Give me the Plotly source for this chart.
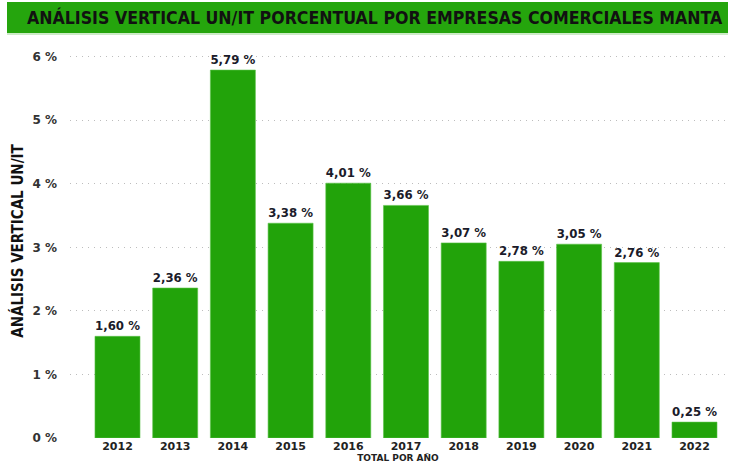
import plotly.graph_objects as go

years = ["2012", "2013", "2014", "2015", "2016", "2017", "2018", "2019", "2020", "2021", "2022"]
values = [1.60, 2.36, 5.79, 3.38, 4.01, 3.66, 3.07, 2.78, 3.05, 2.76, 0.25]
y_ticks = [0, 1, 2, 3, 4, 5, 6]

labels = [f"{v:.2f} %".replace(".", ",") for v in values]
tick_text = [f"{t} %" for t in y_ticks]

GREEN = "#22A30A"
W, H = 734, 475
L, R, T, B = 70, 8, 44, 37
pw = W - L - R
ph = H - T - B

def px_x(p):
    return (p - L) / pw

def px_y(p):
    return (H - B - p) / ph

fig = go.Figure(go.Bar(
    x=years, y=values,
    marker=dict(color=GREEN, line=dict(color="#5cc24a", width=0.6)),
    text=labels, textposition="outside", cliponaxis=False,
    textfont=dict(family="DejaVu Sans", size=12, color="#1b1b2a", weight="bold"),
    width=0.78,
))

fig.update_layout(
    width=W, height=H,
    margin=dict(l=L, r=R, t=T, b=B, autoexpand=False),
    paper_bgcolor="white", plot_bgcolor="white",
    showlegend=False,
    xaxis=dict(
        type="category", range=[-0.823, 10.546], automargin=False,
        tickfont=dict(family="DejaVu Sans", size=11, color="#222222", weight="bold"),
        showgrid=False, showline=False, zeroline=False, ticks="",
        title=dict(text="TOTAL POR AÑO", standoff=2,
                   font=dict(family="DejaVu Sans", size=9, color="#222222", weight="bold")),
    ),
    yaxis=dict(
        range=[0, 6.2], tickvals=y_ticks, ticktext=tick_text, automargin=False,
        tickfont=dict(family="DejaVu Sans", size=12, color="#333333", weight="bold"),
        showgrid=True, gridcolor="#bdbdbd", griddash="1px,5px", gridwidth=1,
        zeroline=False, showline=False, ticks="", ticklabelstandoff=12,
        title=dict(text="ANÁLISIS VERTICAL UN/IT", standoff=5,
                   font=dict(family="DejaVu Sans Condensed, DejaVu Sans", size=15, color="#111111", weight="bold")),
    ),
    shapes=[
        dict(type="rect", xref="paper", yref="paper",
             x0=px_x(7), x1=px_x(728), y0=px_y(33), y1=px_y(2),
             fillcolor="#25A50D", line=dict(width=0), layer="below"),
        dict(type="line", xref="paper", yref="paper",
             x0=px_x(7), x1=px_x(728), y0=px_y(34), y1=px_y(34),
             line=dict(color="#9ad68f", width=1)),
    ],
    annotations=[
        dict(text="ANÁLISIS VERTICAL UN/IT PORCENTUAL POR EMPRESAS COMERCIALES MANTA",
             xref="paper", yref="paper", x=px_x(375), y=px_y(17),
             xanchor="center", yanchor="middle", showarrow=False,
             font=dict(family="DejaVu Sans Condensed, DejaVu Sans", size=17.6, color="#111111", weight="bold")),
    ],
)

fig.write_html("out.html", config={"displayModeBar": False},
               post_script="document.body.style.margin='0';")
